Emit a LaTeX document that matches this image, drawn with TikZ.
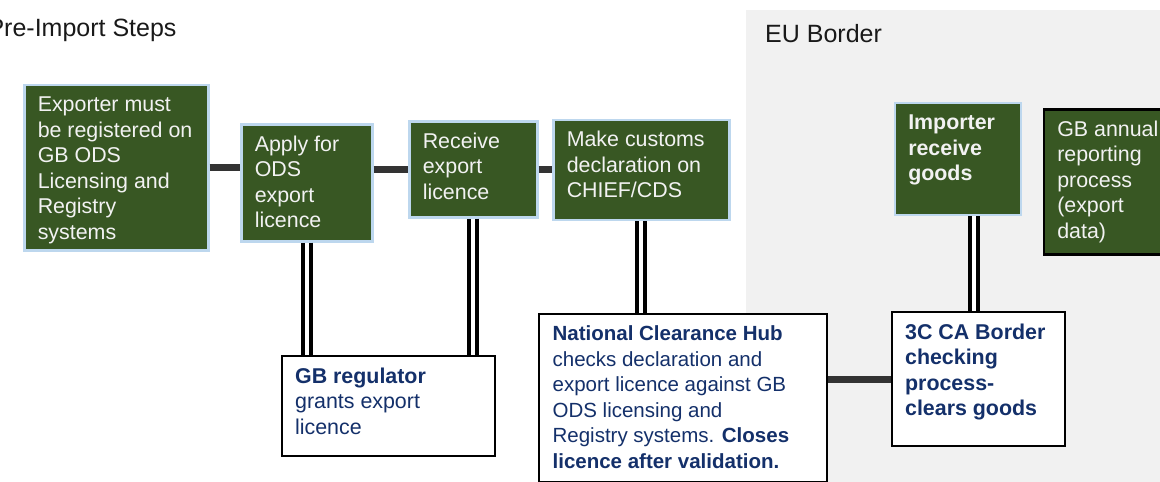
\documentclass[tikz,border=0pt]{standalone}
\usepackage{fontspec}
\setmainfont{Liberation Sans}
\definecolor{boxgreen}{HTML}{385723}
\definecolor{edgeblue}{HTML}{BDD7EE}
\definecolor{navy}{HTML}{14306A}
\definecolor{bggray}{HTML}{F1F1F1}
\definecolor{linkgray}{HTML}{333333}
\newcommand\bxt[3]{\parbox[c][#2][t]{#1}{\raggedright\leftskip=13.5pt\strut #3}}
\tikzset{
  greenbox/.style={draw=edgeblue, line width=2.5pt, fill=boxgreen, text=white!95!black,
    inner sep=0pt, inner ysep=9.3pt, anchor=north west, font=\fontsize{21.4}{25.5}\selectfont},
  annualbox/.style={greenbox, draw=black},
  whitebox/.style={draw=black, line width=2.2pt, fill=white, text=navy,
    inner sep=0pt, inner ysep=9.3pt, anchor=north west, font=\fontsize{21.4}{25.5}\selectfont},
  link/.style={draw=linkgray, line width=7pt},
  dbl/.style={draw=black, line width=4.3pt, double=white, double distance=3.6pt},
  title/.style={font=\fontsize{25}{30}\selectfont, text=black!90, inner sep=0pt}
}
\begin{document}
\begin{tikzpicture}[x=1pt,y=-1pt]
\useasboundingbox (0,0) rectangle (1160,482);
\clip (0,0) rectangle (1160,482);
\fill[bggray] (746,10) rectangle (1160,482);
\node[title, anchor=base east] (pre) at (176.7,36.7) {Pre-Import Steps};
\node[title, anchor=base west] (eu) at (765,42.3) {EU Border};

\node[greenbox] (ex) at (23,83.5) {\bxt{184pt}{146.9pt}{Exporter must\\be registered on\\GB ODS\\Licensing and\\Registry\\systems}};
\node[greenbox] (ap) at (240,123) {\bxt{131pt}{98.4pt}{Apply for\\ODS\\export\\licence}};
\node[greenbox] (rc) at (408,120) {\bxt{128pt}{77.4pt}{Receive\\export\\licence}};
\node[greenbox] (mk) at (552,118.5) {\bxt{176pt}{81.4pt}{Make customs\\declaration on\\CHIEF/CDS}};
\node[greenbox] (im) at (893.5,101.5) {\bxt{126pt}{93.4pt}{\textbf{Importer}\\\textbf{receive}\\\textbf{goods}}};
\node[annualbox] (an) at (1042.5,108) {\bxt{140pt}{126.4pt}{GB annual\\reporting\\process\\(export\\data)}};
\node[whitebox] (rg) at (280.5,355) {\bxt{213.5pt}{81.4pt}{\textbf{GB regulator}\\grants export\\licence}};
\node[whitebox, font=\fontsize{20.5}{25.5}\selectfont] (nc) at (538,312.5) {\bxt{287.5pt}{149.4pt}{\textbf{National Clearance Hub}\\checks declaration and\\export licence against GB\\ODS licensing and\\Registry systems. \textbf{Closes}\\\textbf{licence after validation.}}};
\node[whitebox] (cc) at (890.5,311) {\bxt{173.5pt}{115.4pt}{\textbf{3C CA Border}\\\textbf{checking}\\\textbf{process-}\\\textbf{clears goods}}};

\draw[link] (ex.east) -- (ex.east -| ap.west);
\draw[link] (ap.east |- rc.west) -- (rc.west);
\draw[link] (rc.east) -- (rc.east -| mk.west);
\draw[link] (cc.west -| nc.east) -- (cc.west);
\draw[dbl] (ap.south) -- (ap.south |- rg.north);
\draw[dbl] (rc.south) -- (rc.south |- rg.north);
\draw[dbl] (mk.south) -- (mk.south |- nc.north);
\draw[dbl] ([xshift=16.5pt]im.south) -- ([xshift=16.5pt]im.south |- cc.north);
\end{tikzpicture}
\end{document}
